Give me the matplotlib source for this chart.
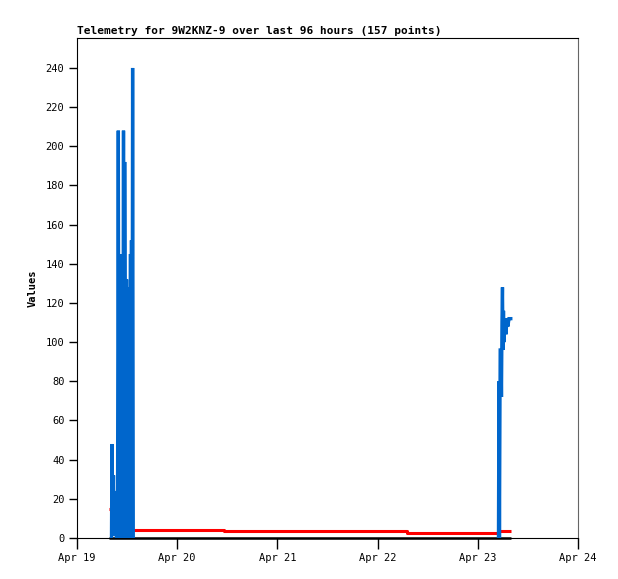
import matplotlib
matplotlib.use("Agg")
import matplotlib.pyplot as plt
import numpy as np

# horas desde Apr 19 00:00
azul_h1 = [8.26, 8.38, 8.50, 8.74, 8.86, 9.05, 9.22, 9.46, 9.70, 9.89, 10.06, 10.25,
           10.37, 10.54, 10.66, 10.83, 10.97, 11.14, 11.26, 11.42, 11.57, 11.69, 11.86,
           11.98, 12.17, 12.29, 12.45, 12.57, 12.69, 12.81, 12.93, 13.05, 13.17, 13.32, 13.48]
azul_v1 = [0, 48, 2, 32, 1, 24, 8, 0, 4, 208, 0, 145,
           2, 128, 0, 112, 4, 208, 0, 192, 104, 2, 132,
           0, 88, 3, 104, 128, 0, 145, 2, 152, 0, 240, 0]

azul_h2 = [100.95, 101.07, 101.19, 101.36, 101.55, 101.67, 101.79, 101.91, 102.03,
           102.15, 102.27, 102.51, 102.75, 102.99, 103.22, 103.46, 103.9]
azul_v2 = [0, 80, 0, 96, 96, 72, 110, 128, 96, 116, 100, 112, 104, 112, 108, 112, 112]

rojo_h = [7.7, 8.6, 9.1, 9.5, 35.3, 79.1, 101.0, 103.9]
rojo_v = [15, 9, 6, 4, 3.4, 2.8, 3.8, 3.8]

negro_h = [7.7, 103.9]
negro_v = [0, 0]

dias = ["Apr 19", "Apr 20", "Apr 21", "Apr 22", "Apr 23", "Apr 24"]

plt.rcParams['font.family'] = ['DejaVu Sans Mono']
plt.rcParams['font.size'] = 7.5

fig = plt.figure(figsize=(6.18, 5.79), dpi=100)
ax = fig.add_axes([77/618, 41/579, 501/618, 500/579])

ax.plot(negro_h, negro_v, color='black', lw=1.8, solid_capstyle='butt', zorder=2, clip_on=False)
ax.plot(rojo_h, rojo_v, color='#ff0000', lw=2.2, drawstyle='steps-post',
        solid_capstyle='butt', zorder=3)
azul_h = azul_h1 + [np.nan] + azul_h2
azul_v = azul_v1 + [np.nan] + azul_v2
ax.plot(azul_h, azul_v, color='#0066cc', lw=2.4, solid_joinstyle='miter', zorder=4)

ax.set_xlim(0, 120)
ax.set_ylim(0, 255.3)
ax.set_xticks(np.arange(0, 121, 24))
ax.set_xticklabels(dias)
ax.set_yticks(np.arange(0, 241, 20))
ax.tick_params(axis='x', direction='out', length=8, width=1, pad=3)
ax.tick_params(axis='y', direction='out', length=6, width=1, pad=3)

ax.spines['right'].set_color('#666666')
for s in ['left', 'bottom', 'top']:
    ax.spines[s].set_color('black')

ax.set_ylabel('Values', fontweight='bold', labelpad=6)
ax.set_title('Telemetry for 9W2KNZ-9 over last 96 hours (157 points)',
             loc='left', fontweight='bold', fontsize=8, pad=3)

fig.savefig('out.png', dpi=100)
